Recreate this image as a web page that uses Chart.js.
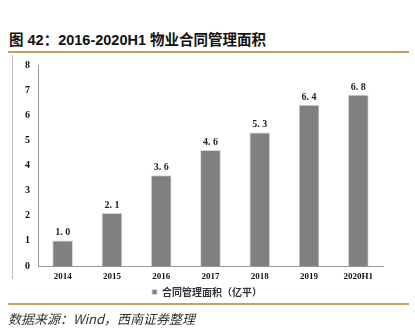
<!DOCTYPE html>
<html>
<head>
<meta charset="utf-8">
<script src="https://cdn.jsdelivr.net/npm/chart.js@4.4.0/dist/chart.umd.min.js"></script>
<style>
    html, body { margin: 0; padding: 0; background: #fff; }
    body { width: 415px; height: 332px; position: relative; overflow: hidden; }
    .title {
        position: absolute; left: 9px; top: 28px;
        font: bold 14.5px "Liberation Sans", "Noto Sans CJK SC", sans-serif;
        color: #111; white-space: nowrap;
    }
    .rule { position: absolute; left: 8px; width: 401px; height: 2px; background: #c9a063; }
    .frame { position: absolute; left: 12px; top: 55px; width: 1px; height: 224px; background: #bbb; }
    .source {
        position: absolute; left: 8px; top: 309px;
        font: italic 13px "Noto Sans CJK SC", sans-serif; color: #333; white-space: nowrap;
    }
    #wrap { position: absolute; left: 0; top: 55px; width: 415px; height: 254px; }
</style>
</head>
<body>
<div class="title">图 42：2016-2020H1 物业合同管理面积</div>
<div class="rule" style="top:51px"></div>
<div class="frame"></div>
<div id="wrap"><canvas id="chart"></canvas></div>
<div class="rule" style="top:303px"></div>
<div class="source">数据来源：Wind，西南证券整理</div>

<script>
const years = ['2014', '2015', '2016', '2017', '2018', '2019', '2020H1'];
const contractArea = [1.0, 2.1, 3.6, 4.6, 5.3, 6.4, 6.8];
const yTicks = [0, 1, 2, 3, 4, 5, 6, 7, 8];

const tickFont = { family: '"Liberation Serif", serif', size: 10, weight: 'bold' };

// value labels above each bar
const barLabels = {
    id: 'barLabels',
    afterDatasetsDraw(chart) {
        const ctx = chart.ctx;
        const meta = chart.getDatasetMeta(0);
        ctx.save();
        ctx.font = 'bold 10px "Liberation Serif", serif';
        ctx.fillStyle = '#222';
        ctx.textAlign = 'center';
        ctx.textBaseline = 'bottom';
        meta.data.forEach((bar, i) => {
            const text = contractArea[i].toFixed(1).replace('.', '. ');
            ctx.fillText(text, bar.x, bar.y - 3);
        });
        ctx.restore();
    }
};

new Chart(document.getElementById('chart'), {
    type: 'bar',
    data: {
        labels: years,
        datasets: [{
            label: '合同管理面积（亿平）',
            data: contractArea,
            backgroundColor: '#808080',
            borderColor: '#d6d6d6',
            borderWidth: 1,
            barThickness: 20,
            yAxisID: 'y'
        }]
    },
    options: {
        responsive: true,
        maintainAspectRatio: false,
        animation: false,
        layout: { padding: { left: 0, right: 1, top: 5, bottom: 2 } },
        plugins: {
            legend: {
                display: true,
                position: 'bottom',
                labels: {
                    boxWidth: 5,
                    boxHeight: 5,
                    padding: 6,
                    color: '#333',
                    font: { family: '"Noto Sans CJK SC", sans-serif', size: 10, weight: 'bold' }
                }
            },
            tooltip: { enabled: false }
        },
        scales: {
            y: {
                min: 0,
                max: 8,
                afterBuildTicks: (scale) => { scale.ticks = yTicks.map(v => ({ value: v })); },
                afterFit: (scale) => { scale.width = 38; },
                grid: { display: false, drawTicks: true, tickLength: 4, tickColor: '#999' },
                border: { color: '#999' },
                ticks: { color: '#111', font: tickFont, padding: 4 }
            },
            // blank right-hand gutter so the legend centres under the plot
            yRight: {
                position: 'right',
                min: 0,
                max: 8,
                afterFit: (scale) => { scale.width = 31; },
                grid: { display: false, drawTicks: false },
                border: { display: false },
                ticks: { display: false }
            },
            x: {
                grid: { display: false, drawTicks: true, tickLength: 3, tickColor: '#999', offset: true },
                border: { color: '#999' },
                afterFit: (scale) => { scale.height = 15; },
                ticks: { color: '#111', font: { ...tickFont, size: 9 }, padding: 2 }
            }
        }
    },
    plugins: [barLabels]
});
</script>
</body>
</html>
